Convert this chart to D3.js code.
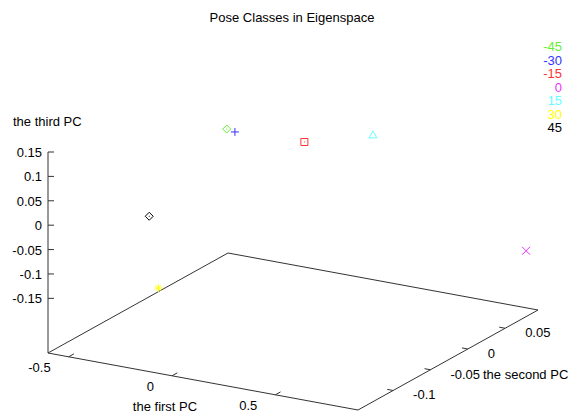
<!DOCTYPE html>
<html>
<head>
<meta charset="utf-8">
<script src="https://cdn.jsdelivr.net/npm/d3@7"></script>
<style>
  body { margin: 0; background: #fff; }
  text { font-family: "Liberation Sans", Arial, sans-serif; font-size: 13px; fill: #000; }
</style>
</head>
<body>
<script>
// pose classes and their coordinates on the first three principal components
var poses = ["-45", "-30", "-15", "0", "15", "30", "45"];
var pc1 = [-0.57, -0.505, -0.075, 0.9, 0.3, -0.525, -0.45];
var pc2 = [0.084, 0.077, 0.051, 0.078, 0.039, -0.020, -0.053];
var pc3 = [0.003, 0.008, 0.043, -0.127, 0.097, -0.231, -0.050];
var poseColors = ["#66ee33", "#3333ff", "#ff3333", "#ee33ff", "#66ffff", "#ffff00", "#000000"];
var poseSymbols = ["diamond", "plus", "square", "cross", "triangle", "star", "diamond"];

var xTicks = [-0.5, 0, 0.5];
var yTicks = [-0.1, -0.05, 0, 0.05];
var zTicks = [-0.15, -0.1, -0.05, 0, 0.05, 0.1, 0.15];

var W = 573, H = 414;

var svg = d3.select("body").append("svg")
    .attr("width", W)
    .attr("height", H);

// view: base plane is a parallelogram, z is vertical
var origin = {x: 48, y: 353},
    ex = {x: 310, y: 57},
    ey = {x: 180, y: -100};

var xs = d3.scaleLinear().domain([-0.6, 0.9]).range([0, 1]);
var ys = d3.scaleLinear().domain([-0.147, 0.094]).range([0, 1]);
var zs = d3.scaleLinear().domain([-0.262, 0.15]).range([0, -201]);
var zBase = -0.262, zTop = 0.15;

function proj(x, y, z) {
  var fx = xs(x), fy = ys(y);
  return [origin.x + ex.x * fx + ey.x * fy,
          origin.y + ex.y * fx + ey.y * fy + zs(z)];
}

var line = d3.line();
var frame = svg.append("g")
    .attr("fill", "none")
    .attr("stroke", "#333")
    .attr("stroke-width", 1);

var x0 = xs.domain()[0], x1 = xs.domain()[1],
    y0 = ys.domain()[0], y1 = ys.domain()[1];

frame.append("path")
    .attr("d", line([proj(x0, y0, zBase), proj(x1, y0, zBase), proj(x1, y1, zBase),
                     proj(x0, y1, zBase), proj(x0, y0, zBase)]));
frame.append("path")
    .attr("d", line([proj(x0, y0, zBase), proj(x0, y0, zTop)]));

var tl = 6;
// x ticks point along +y direction, y ticks along -x
var uy = Math.hypot(ey.x, ey.y), ux = Math.hypot(ex.x, ex.y);
xTicks.forEach(function(t) {
  var p = proj(t, y0, zBase);
  frame.append("path").attr("d", line([p, [p[0] + ey.x / uy * tl, p[1] + ey.y / uy * tl]]));
  svg.append("text")
      .attr("x", p[0] - 18)
      .attr("y", p[1] + 15)
      .attr("text-anchor", "end")
      .text(t);
});
yTicks.forEach(function(t) {
  var p = proj(x1, t, zBase);
  frame.append("path").attr("d", line([p, [p[0] - ex.x / ux * tl, p[1] - ex.y / ux * tl]]));
  svg.append("text")
      .attr("x", p[0] + 20)
      .attr("y", p[1] + 9)
      .text(t);
});
zTicks.forEach(function(t) {
  var p = proj(x0, y0, t);
  frame.append("path").attr("d", line([p, [p[0] + tl, p[1]]]));
  svg.append("text")
      .attr("x", p[0] - 6)
      .attr("y", p[1] + 5)
      .attr("text-anchor", "end")
      .text(t);
});

// titles
svg.append("text").attr("x", 292).attr("y", 22).attr("text-anchor", "middle")
    .text("Pose Classes in Eigenspace");
svg.append("text").attr("x", 13).attr("y", 126).text("the third PC");
svg.append("text").attr("x", 165).attr("y", 411).attr("text-anchor", "middle").text("the first PC");
svg.append("text").attr("x", 483).attr("y", 379).text("the second PC");

// points
function symbolPath(kind, s) {
  var h = s / 2;
  switch (kind) {
    case "plus": return "M" + (-h) + ",0H" + h + "M0," + (-h) + "V" + h;
    case "cross": return "M" + (-h) + "," + (-h) + "L" + h + "," + h + "M" + (-h) + "," + h + "L" + h + "," + (-h);
    case "square": return "M" + (-h+0.5) + "," + (-h+0.5) + "H" + (h-0.5) + "V" + (h-0.5) + "H" + (-h+0.5) + "Z M-0.5,0H0.5";
    case "triangle": return "M0," + (-h) + "L" + h + "," + (h-1) + "H" + (-h) + "Z";
    case "diamond": return "M0," + (-h) + "L" + h + ",0L0," + h + "L" + (-h) + ",0Z M-0.5,0H0.5";
    case "star": return "M" + (-h) + ",0H" + h + "M0," + (-h) + "V" + h +
                        "M" + (-h*0.7) + "," + (-h*0.7) + "L" + (h*0.7) + "," + (h*0.7) +
                        "M" + (-h*0.7) + "," + (h*0.7) + "L" + (h*0.7) + "," + (-h*0.7);
  }
}

var pts = poses.map(function(p, i) {
  return {pose: p, x: pc1[i], y: pc2[i], z: pc3[i], color: poseColors[i], sym: poseSymbols[i]};
});

svg.append("g").selectAll("path")
  .data(pts)
  .enter().append("path")
    .attr("transform", function(d) { var p = proj(d.x, d.y, d.z); return "translate(" + p[0] + "," + p[1] + ")"; })
    .attr("d", function(d) { return symbolPath(d.sym, 8); })
    .attr("fill", "none")
    .attr("stroke", function(d) { return d.color; })
    .attr("stroke-width", 1);

// key
svg.append("g").selectAll("text")
  .data(pts)
  .enter().append("text")
    .attr("x", 562)
    .attr("y", function(d, i) { return 51 + i * 13.5; })
    .attr("text-anchor", "end")
    .style("fill", function(d) { return d.color; })
    .text(function(d) { return d.pose; });
</script>
</body>
</html>
